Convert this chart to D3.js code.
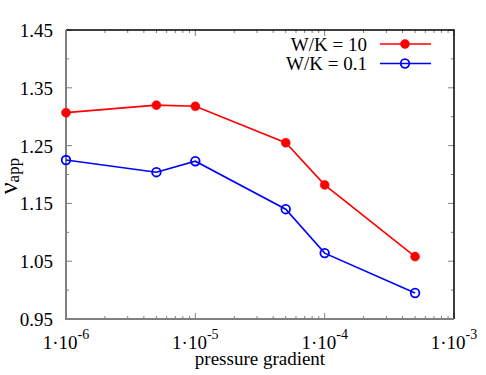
<!DOCTYPE html>
<html>
<head>
<meta charset="utf-8">
<script src="https://cdn.jsdelivr.net/npm/d3@7"></script>
<style>
  body { margin: 0; background: #fff; }
  svg { display: block; }
  text { font-family: 'Liberation Serif'; }
</style>
</head>
<body>
<svg id="chart" width="486" height="375"></svg>
<script>
// data
var gradients = [1e-6, 5e-6, 1e-5, 5e-5, 1e-4, 5e-4];
var nuHigh = [1.307, 1.320, 1.318, 1.255, 1.182, 1.058];   // W/K = 10
var nuLow  = [1.225, 1.204, 1.223, 1.140, 1.064, 0.995];   // W/K = 0.1
var yTicks = [0.95, 1.05, 1.15, 1.25, 1.35, 1.45];
var yMinor = [1.00, 1.10, 1.20, 1.30, 1.40];
var xExps = [-6, -5, -4, -3];
var seriesNames = ["W/K = 10", "W/K = 0.1"];
var seriesColors = ["#ff0000", "#0000ff"];

var svg = d3.select("#chart");
var m = {left: 66, top: 30, right: 454, bottom: 319};

var x = d3.scaleLog().domain([1e-6, 1e-3]).range([m.left, m.right]);
var y = d3.scaleLinear().domain([0.95, 1.45]).range([m.bottom, m.top]);

var grey = "#808080";

function txt(sel) {
  return sel.style("font-family", "'Liberation Serif'");
}

// minor x ticks (2..9 per decade)
var xMinor = [];
for (var e = -6; e < -3; e++) {
  for (var k = 2; k <= 9; k++) xMinor.push(k * Math.pow(10, e));
}

var ticks = svg.append("g").attr("stroke", grey).attr("stroke-width", 1);
xExps.forEach(function (e) {
  var px = x(Math.pow(10, e));
  ticks.append("line").attr("x1", px).attr("x2", px).attr("y1", m.bottom).attr("y2", m.bottom - 6);
  ticks.append("line").attr("x1", px).attr("x2", px).attr("y1", m.top).attr("y2", m.top + 6);
});
xMinor.forEach(function (v) {
  var px = x(v);
  ticks.append("line").attr("x1", px).attr("x2", px).attr("y1", m.bottom).attr("y2", m.bottom - 3);
  ticks.append("line").attr("x1", px).attr("x2", px).attr("y1", m.top).attr("y2", m.top + 3);
});
yTicks.forEach(function (v) {
  var py = y(v);
  ticks.append("line").attr("x1", m.left).attr("x2", m.left + 6).attr("y1", py).attr("y2", py);
  ticks.append("line").attr("x1", m.right).attr("x2", m.right - 6).attr("y1", py).attr("y2", py);
});
yMinor.forEach(function (v) {
  var py = y(v);
  ticks.append("line").attr("x1", m.left).attr("x2", m.left + 3).attr("y1", py).attr("y2", py);
  ticks.append("line").attr("x1", m.right).attr("x2", m.right - 3).attr("y1", py).attr("y2", py);
});

// border: top/right black, left/bottom grey
svg.append("path")
  .attr("d", "M" + m.left + "," + m.top + "H" + m.right + "V" + m.bottom)
  .attr("fill", "none").attr("stroke", "#000").attr("stroke-width", 1.5);
svg.append("path")
  .attr("d", "M" + m.left + "," + m.top + "V" + m.bottom + "H" + m.right)
  .attr("fill", "none").attr("stroke", grey).attr("stroke-width", 2);

// y tick labels
txt(svg.selectAll(".ylab").data(yTicks).enter().append("text"))
  .attr("x", m.left - 13)
  .attr("y", function (d) { return y(d) + 7; })
  .attr("text-anchor", "end")
  .attr("font-size", 19)
  .text(function (d) { return d.toFixed(2); });

// x tick labels  1·10^e
xExps.forEach(function (e) {
  var t = txt(svg.append("text"))
    .attr("x", x(Math.pow(10, e)))
    .attr("y", m.bottom + 30)
    .attr("text-anchor", "middle")
    .attr("font-size", 19);
  t.append("tspan").text("1\u00b710");
  t.append("tspan").attr("font-size", 14).attr("dy", -10).text(String(e));
});

// axis titles
txt(svg.append("text"))
  .attr("x", (m.left + m.right) / 2)
  .attr("y", 365)
  .attr("text-anchor", "middle")
  .attr("font-size", 19)
  .text("pressure gradient");

var yt = txt(svg.append("text"))
  .attr("transform", "translate(17,176) rotate(-90)")
  .attr("text-anchor", "middle")
  .attr("font-size", 26);
yt.append("tspan").text("\u03bd");
yt.append("tspan").attr("font-size", 17).attr("dy", 2).text("app");

// series
var line = d3.line().x(function (d) { return x(d[0]); }).y(function (d) { return y(d[1]); });
var series = [nuHigh, nuLow].map(function (vals) {
  return gradients.map(function (g, i) { return [g, vals[i]]; });
});

series.forEach(function (pts, si) {
  var c = seriesColors[si];
  svg.append("path").datum(pts).attr("d", line)
    .attr("fill", "none").attr("stroke", c).attr("stroke-width", 1.6);
  svg.selectAll(".pt" + si).data(pts).enter().append("circle")
    .attr("cx", function (d) { return x(d[0]); })
    .attr("cy", function (d) { return y(d[1]); })
    .attr("r", si === 0 ? 4.5 : 4.3)
    .attr("fill", si === 0 ? c : "none")
    .attr("stroke", c)
    .attr("stroke-width", si === 0 ? 0.5 : 1.8);
});

// legend
seriesNames.forEach(function (name, i) {
  var ly = 44 + i * 19.5;
  var c = seriesColors[i];
  txt(svg.append("text")).attr("x", 367).attr("y", ly + 6.5)
    .attr("text-anchor", "end").attr("font-size", 19).text(name);
  svg.append("line").attr("x1", 380).attr("x2", 431).attr("y1", ly).attr("y2", ly)
    .attr("stroke", c).attr("stroke-width", 1.6);
  svg.append("circle").attr("cx", 405).attr("cy", ly)
    .attr("r", i === 0 ? 4.5 : 4.3)
    .attr("fill", i === 0 ? c : "none")
    .attr("stroke", c).attr("stroke-width", i === 0 ? 0.5 : 1.8);
});
</script>
</body>
</html>
